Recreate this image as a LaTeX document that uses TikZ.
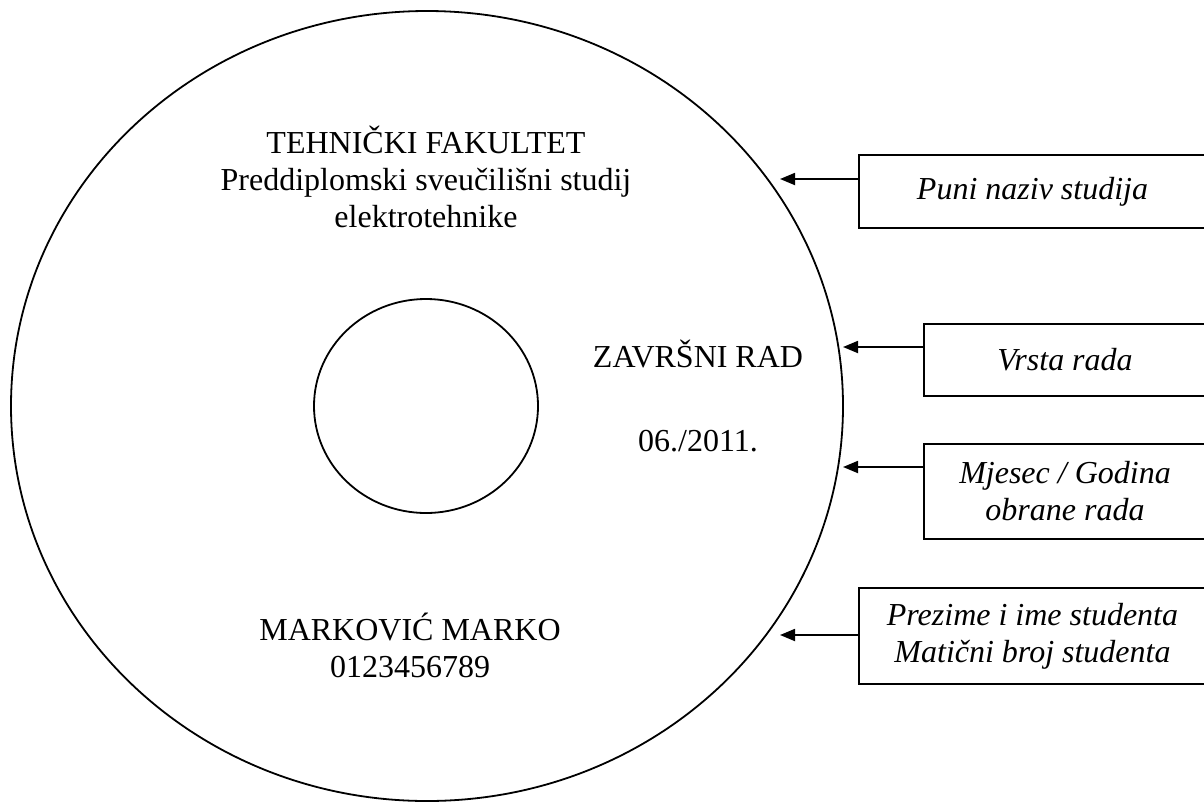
\documentclass[tikz,border=0pt]{standalone}
\usepackage{fontspec}
\setmainfont{Liberation Serif}
\usetikzlibrary{arrows.meta}

\tikzset{
  disc text/.style={anchor=base, align=center, inner sep=0pt},
  labelbox/.style={draw, line width=2pt, anchor=north west, inner sep=0pt,
    align=center, font=\itshape\fontsize{32}{37}\selectfont},
  pointer/.style={-{Triangle[length=15pt,width=12pt]}, line width=1.8pt},
}

\begin{document}
\begin{tikzpicture}[x=1pt, y=-1pt, every node/.style={font=\fontsize{32}{37}\selectfont}]
	\useasboundingbox (0,0) rectangle (1204,801);

	% Disc
	\draw[line width=1.8pt] (427,406) ellipse [x radius=416, y radius=395];
	\draw[line width=1.8pt] (426,406) ellipse [x radius=112, y radius=107];

	% Texts on the disc (base = last line)
	\node[disc text] (faculty) at (426,227) {TEHNIČKI FAKULTET\\Preddiplomski sveučilišni studij\\elektrotehnike};
	\node[disc text] (kind) at (698,367) {ZAVRŠNI RAD};
	\node[disc text] (date) at (698,451) {06./2011.};
	\node[disc text] (student) at (410,677) {MARKOVIĆ MARKO\\0123456789};

	% Boxes
	\node[labelbox, minimum width=347, minimum height=73] (study) at (858,154) {Puni naziv studija};
	\node[labelbox, minimum width=282, minimum height=72] (type) at (923,323) {Vrsta rada};
	\node[labelbox, minimum width=282, minimum height=95] (month) at (923,443) {Mjesec / Godina\\obrane rada};
	\node[labelbox, minimum width=347, minimum height=96] (name) at (858,587) {Prezime i ime studenta\\Matični broj studenta};

	% Arrows
	\coordinate (tip1) at (780,179);
	\coordinate (tip2) at (843,347);
	\coordinate (tip3) at (843,467);
	\coordinate (tip4) at (780,635);
	\draw[pointer] (study.west |- tip1) -- (tip1);
	\draw[pointer] (type.west |- tip2) -- (tip2);
	\draw[pointer] (month.west |- tip3) -- (tip3);
	\draw[pointer] (name.west |- tip4) -- (tip4);
\end{tikzpicture}
\end{document}
